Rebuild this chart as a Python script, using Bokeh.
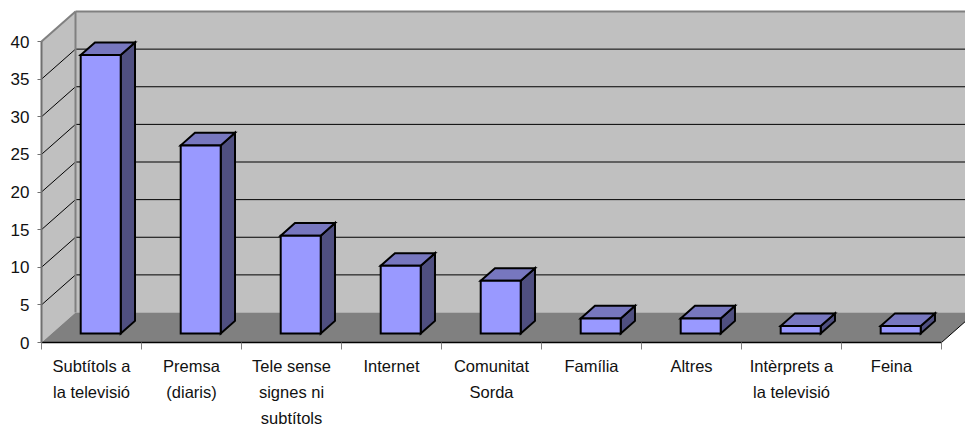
from bokeh.core.properties import value
from bokeh.embed import file_html
from bokeh.models import FixedTicker, LinearAxis, Range1d
from bokeh.plotting import figure
from bokeh.resources import INLINE

# Chart contents
categories = [
    "Subtítols a\nla televisió",
    "Premsa\n(diaris)",
    "Tele sense\nsignes ni\nsubtítols",
    "Internet",
    "Comunitat\nSorda",
    "Família",
    "Altres",
    "Intèrprets a\nla televisió",
    "Feina",
]
values = [37, 25, 13, 9, 7, 2, 2, 1, 1]
y_ticks = [0, 5, 10, 15, 20, 25, 30, 35, 40]

FONT = "Liberation Sans"
WALL = "#C0C0C0"
FLOOR = "#808080"
EDGE = "#808080"
BAR_FRONT = "#9999FF"
BAR_TOP = "#7777BF"
BAR_SIDE = "#4F4F80"

# Oblique projection: one unit of depth moves a point right and up the plot.
PX_X = 100.0
PX_Y = 7.525
DEPTH_X = 34 / PX_X
DEPTH_Y = 30 / PX_Y
Y_MAX = max(y_ticks)
N = len(categories)


def proj(x, y, d=0.0):
    return x + DEPTH_X * d, y + DEPTH_Y * d


def poly(points, **kw):
    xs, ys = zip(*[proj(*pt) for pt in points])
    p.patch(list(xs), list(ys), **kw)


def line(a, b, **kw):
    (x0, y0), (x1, y1) = proj(*a), proj(*b)
    p.line([x0, x1], [y0, y1], **kw)


p = figure(
    width=965,
    height=427,
    output_backend="svg",
    toolbar_location=None,
    x_axis_location=None,
    y_axis_location=None,
    x_range=Range1d(-41 / PX_X, (965 - 41) / PX_X),
    y_range=Range1d(-85 / PX_Y, 342 / PX_Y),
    min_border=0,
    outline_line_color=None,
)
p.grid.visible = False

# Walls and floor of the box
poly([(0, 0, 1), (N, 0, 1), (N, Y_MAX, 1), (0, Y_MAX, 1)], fill_color=WALL, line_color=None)
poly([(0, 0, 0), (0, 0, 1), (0, Y_MAX, 1), (0, Y_MAX, 0)], fill_color=WALL, line_color=None)
poly([(0, 0, 0), (N, 0, 0), (N, 0, 1), (0, 0, 1)], fill_color=FLOOR, line_color=None)

# Gridlines run along the side wall and across the back wall
for t in y_ticks[1:-1]:
    line((0, t, 0), (0, t, 1), line_color="black", line_width=1)
    line((0, t, 1), (N, t, 1), line_color="black", line_width=1)

line((0, Y_MAX, 0), (0, Y_MAX, 1), line_color=EDGE, line_width=2)
line((0, Y_MAX, 1), (N, Y_MAX, 1), line_color=EDGE, line_width=2)
line((0, 0, 1), (0, Y_MAX, 1), line_color=EDGE, line_width=2)
line((N, 0, 0), (N, 0, 1), line_color="black", line_width=1)

# Bars: front face, top and side of each box
NEAR, FAR = 0.30, 0.72
LEFT, WIDTH = 0.29, 0.40
for i, v in enumerate(values):
    x0, x1 = i + LEFT, i + LEFT + WIDTH
    style = dict(line_color="black", line_width=2, line_join="miter")
    poly([(x1, 0, NEAR), (x1, 0, FAR), (x1, v, FAR), (x1, v, NEAR)], fill_color=BAR_SIDE, **style)
    poly([(x0, v, NEAR), (x1, v, NEAR), (x1, v, FAR), (x0, v, FAR)], fill_color=BAR_TOP, **style)
    poly([(x0, 0, NEAR), (x1, 0, NEAR), (x1, v, NEAR), (x0, v, NEAR)], fill_color=BAR_FRONT, **style)

# Value axis at the front left corner
y_axis = LinearAxis(
    fixed_location=0,
    bounds=(0, Y_MAX),
    ticker=FixedTicker(ticks=y_ticks),
    axis_line_color="#707070",
    axis_line_width=2,
    major_tick_line_color="#707070",
    major_tick_line_width=1,
    major_tick_out=4,
    major_tick_in=0,
    minor_tick_line_color=None,
    major_label_standoff=8,
    major_label_text_font=FONT,
    major_label_text_font_size="17px",
    major_label_text_color="#111111",
)
p.add_layout(y_axis, "left")

# Category axis: ticks mark the boundaries between categories
x_axis = LinearAxis(
    fixed_location=0,
    bounds=(0, N),
    ticker=FixedTicker(ticks=list(range(N + 1))),
    axis_line_color="black",
    axis_line_width=1.5,
    major_tick_line_color=EDGE,
    major_tick_line_width=1,
    major_tick_out=7,
    major_tick_in=0,
    minor_tick_line_color=None,
    major_label_text_color=None,
    major_label_text_font_size="1px",
)
p.add_layout(x_axis, "below")

# Category names, one text per line with a wide line pitch
FIRST_LINE = 23 / PX_Y
LINE_PITCH = 26 / PX_Y
label_x, label_y, label_text = [], [], []
for i, name in enumerate(categories):
    for k, part in enumerate(name.split("\n")):
        label_x.append(i + 0.5)
        label_y.append(-FIRST_LINE - k * LINE_PITCH)
        label_text.append(part)

p.text(
    x=label_x,
    y=label_y,
    text=label_text,
    text_font=value(FONT),
    text_font_size="16.5px",
    text_color="#111111",
    text_align="center",
    text_baseline="middle",
)

open("out.html", "w").write(file_html(p, INLINE))
